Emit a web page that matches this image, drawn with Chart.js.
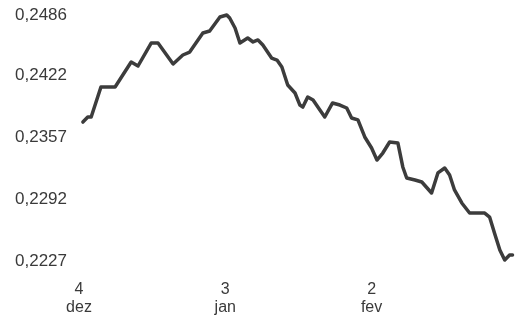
<!DOCTYPE html>
<html>
<head>
<meta charset="utf-8">
<script src="https://cdn.jsdelivr.net/npm/chart.js@4/dist/chart.umd.min.js"></script>
<style>
html,body{margin:0;padding:0;background:#fff;}
#c{display:block;}
</style>
</head>
<body>
<canvas id="c" width="527" height="317"></canvas>
<script>
// days counted from 4 Dec
const days = [0.8,1.8,2.5,4.5,7.4,10.7,12.1,14.8,16.2,19.3,21.3,22.7,25.4,26.8,28.9,30.3,30.9,32,33,34.6,35.7,36.7,37.7,39.5,40.6,41.6,42.8,44.3,45.3,45.9,46.9,48,49.4,50.4,52,53.5,54.9,55.9,57.2,58.6,60,61.1,62.3,63.7,65.4,66.4,67.2,68.9,70.3,72.3,73.6,75,76,77,78.5,80.1,83.2,84.2,85.2,86.3,87.3,88.3,88.9];
const values = [0.23733,0.23786,0.23786,0.24102,0.24102,0.24365,0.24323,0.24565,0.24565,0.24344,0.24439,0.2447,0.2467,0.24692,0.24839,0.2486,0.24828,0.24723,0.24565,0.24618,0.24576,0.24597,0.24544,0.24407,0.24386,0.24313,0.24123,0.24039,0.23912,0.23891,0.23997,0.23965,0.2386,0.23786,0.23934,0.23912,0.23881,0.23776,0.23755,0.23576,0.2346,0.23333,0.23407,0.23523,0.23512,0.2326,0.23144,0.23123,0.23102,0.22986,0.23197,0.23249,0.23175,0.23018,0.22881,0.22775,0.22775,0.22733,0.22565,0.22386,0.2228,0.22333,0.22333];
const yTicks = [0.2227, 0.2292, 0.2357, 0.2422, 0.2486];
const xTicks = [0, 30, 60];
const xTickLabels = [['4','dez'], ['3','jan'], ['2','fev']];

const points = days.map((d, i) => ({x: d, y: values[i]}));
const txt = '#3a3a3a';

new Chart(document.getElementById('c'), {
  type: 'line',
  data: {
    datasets: [{
      data: points,
      borderColor: '#3c3c3c',
      borderWidth: 3.5,
      pointRadius: 0,
      tension: 0,
      borderJoinStyle: 'round',
      borderCapStyle: 'round',
      fill: false,
      clip: false
    }]
  },
  options: {
    responsive: false,
    devicePixelRatio: 1,
    animation: false,
    layout: {padding: {left: 15, right: 14, top: 15, bottom: 0}},
    plugins: {legend: {display: false}, tooltip: {enabled: false}},
    scales: {
      x: {
        type: 'linear',
        min: 0,
        max: 89,
        afterBuildTicks: s => { s.ticks = xTicks.map(v => ({value: v})); },
        afterFit: s => { s.height = 56; },
        grid: {display: false, drawTicks: false},
        border: {display: false},
        ticks: {
          autoSkip: false,
          maxRotation: 0,
          padding: 19,
          color: txt,
          font: {family: 'Liberation Sans, Arial, sans-serif', size: 16, lineHeight: 1.15},
          callback: (v) => { const i = xTicks.indexOf(v); return i >= 0 ? xTickLabels[i] : ''; }
        }
      },
      y: {
        type: 'linear',
        min: yTicks[0],
        max: yTicks[yTicks.length - 1],
        afterBuildTicks: s => { s.ticks = yTicks.map(v => ({value: v})); },
        afterFit: s => { s.width = 64; },
        grid: {display: false, drawTicks: false},
        border: {display: false},
        ticks: {
          crossAlign: 'far',
          padding: 0,
          color: txt,
          font: {family: 'Liberation Sans, Arial, sans-serif', size: 17},
          callback: v => v.toFixed(4).replace('.', ',')
        }
      }
    }
  }
});
</script>
</body>
</html>
